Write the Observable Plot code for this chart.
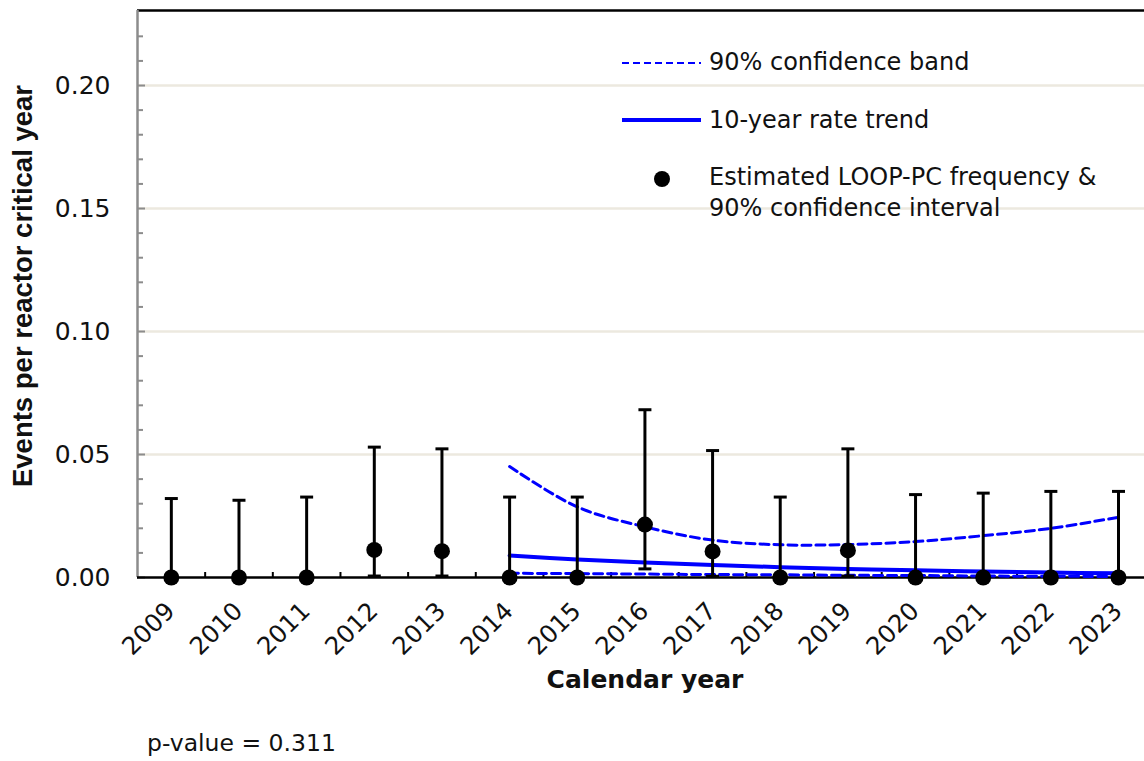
<!DOCTYPE html>
<html>
<head>
<meta charset="utf-8">
<script src="https://cdn.jsdelivr.net/npm/d3@7"></script>
<script src="https://cdn.jsdelivr.net/npm/@observablehq/plot@0.6"></script>
<style>
  html, body { margin: 0; padding: 0; background: #fff; overflow: hidden; }
  #wrap { position: relative; width: 1144px; height: 761px; }
  #legend { position: absolute; left: 0; top: 0; font-family: "DejaVu Sans", sans-serif; font-size: 24px; color: #111; }
  .item { position: absolute; white-space: nowrap; }
  #caption { font-family: "DejaVu Sans", sans-serif; font-size: 23.5px; line-height: 28px; margin-top: 14px; padding-left: 147px; color: #111; }
</style>
</head>
<body>
<div id="wrap">
  <div id="chart"></div>
  <div id="caption"></div>
  <div id="legend"></div>
</div>
<script>
// ---- data ----
const years = [2009, 2010, 2011, 2012, 2013, 2014, 2015, 2016, 2017, 2018, 2019, 2020, 2021, 2022, 2023];
const rate  = [0, 0, 0, 0.0112, 0.0107, 0, 0, 0.0215, 0.0106, 0, 0.0110, 0, 0, 0, 0];
const upper = [0.0321, 0.0314, 0.0327, 0.0530, 0.0523, 0.0327, 0.0327, 0.0682, 0.0516, 0.0327, 0.0523, 0.0337, 0.0343, 0.0350, 0.0350];
const lower = [0, 0, 0, 0.0006, 0.0006, 0, 0, 0.0035, 0.0005, 0, 0.0006, 0, 0, 0, 0];

const trendYears = [2014, 2015, 2016, 2017, 2018, 2019, 2020, 2021, 2022, 2023];
const trend      = [0.0089, 0.0073, 0.0061, 0.0051, 0.0042, 0.0035, 0.0029, 0.0024, 0.0020, 0.0017];
const bandUpper  = [0.0451, 0.0287, 0.0206, 0.0152, 0.0133, 0.0134, 0.0146, 0.0170, 0.0200, 0.0245];
const bandLower  = [0.0017, 0.0016, 0.0014, 0.0012, 0.0011, 0.0009, 0.0008, 0.0006, 0.0005, 0.0004];

const yMajor = [0, 0.05, 0.10, 0.15, 0.20];
const yMinor = [0.01, 0.02, 0.03, 0.04, 0.06, 0.07, 0.08, 0.09, 0.11, 0.12, 0.13, 0.14, 0.16, 0.17, 0.18, 0.19, 0.21, 0.22];
const halfYears = [2009.5, 2010.5, 2011.5, 2012.5, 2013.5, 2014.5, 2015.5, 2016.5, 2017.5, 2018.5, 2019.5, 2020.5, 2021.5, 2022.5];
const xDomain = [2008.5, 2023.384];
const yDomain = [0, 0.2305];

const yTitle = "Events per reactor critical year";
const xTitle = "Calendar year";
const legendLabels = ["90% confidence band", "10-year rate trend", "Estimated LOOP-PC frequency &", "90% confidence interval"];
const captionText = "p-value = 0.311";

// ---- tables ----
const points = years.map((y, i) => ({year: y, rate: rate[i], lo: lower[i], hi: upper[i]}));
const lowCaps = points.filter(d => d.lo > 0);
const trendData = trendYears.map((y, i) => ({year: y, trend: trend[i], up: bandUpper[i], lo: bandLower[i]}));

const blue = "#0000FF";
const capHalf = 0.096;

const chart = Plot.plot({
  width: 1144,
  height: 715,
  marginLeft: 137,
  marginRight: 0,
  marginTop: 10,
  marginBottom: 138,
  style: {fontFamily: "DejaVu Sans, sans-serif", fontSize: "25px", background: "white", color: "#111"},
  x: {domain: xDomain},
  y: {domain: yDomain},
  marks: [
    Plot.gridY(yMajor.filter(d => d > 0), {stroke: "#ECE9DF", strokeOpacity: 1, strokeWidth: 2.5}),
    Plot.ruleY([yDomain[1]], {stroke: "#000", strokeWidth: 2.5}),
    Plot.axisY(yMinor, {tickSize: -6, stroke: "#8c8c8c", strokeWidth: 2, text: null, label: null}),
    Plot.axisY(yMajor, {tickSize: -8, stroke: "#8c8c8c", strokeWidth: 2, text: null, label: null}),
    Plot.axisY(yMajor, {tickSize: 0, tickPadding: 27, tickFormat: d3.format(".2f"), fontSize: 25, label: null}),
    Plot.ruleX([xDomain[0]], {stroke: "#8c8c8c", strokeWidth: 2.5}),
    Plot.axisX(halfYears, {tickSize: -5, stroke: "#000", strokeWidth: 2, text: null, label: null}),
    Plot.text(years, {x: d => d, frameAnchor: "bottom", rotate: -45, textAnchor: "end", dx: 5, dy: 35, text: d => String(d), fontSize: 24.5}),
    Plot.text([yTitle], {frameAnchor: "left", textAnchor: "middle", lineAnchor: "middle", rotate: -90, dx: -114, dy: -8, fontWeight: "bold", fontSize: 27.5, fontFamily: "Liberation Sans, Arial, sans-serif"}),
    Plot.text([xTitle], {frameAnchor: "bottom", dx: 4, dy: 110, fontWeight: "bold", fontSize: 25}),
    Plot.ruleY([0], {stroke: "#000", strokeWidth: 2.5}),
    Plot.line(trendData, {x: "year", y: "up", stroke: blue, strokeWidth: 3, strokeDasharray: "9,5", curve: "catmull-rom"}),
    Plot.line(trendData, {x: "year", y: "lo", stroke: blue, strokeWidth: 3, strokeDasharray: "9,5", curve: "catmull-rom"}),
    Plot.line(trendData, {x: "year", y: "trend", stroke: blue, strokeWidth: 4, curve: "catmull-rom"}),
    Plot.ruleX(points, {x: "year", y1: "lo", y2: "hi", stroke: "#000", strokeWidth: 3}),
    Plot.link(points, {x1: d => d.year - capHalf, x2: d => d.year + capHalf, y1: "hi", y2: "hi", stroke: "#000", strokeWidth: 3}),
    Plot.link(lowCaps, {x1: d => d.year - capHalf, x2: d => d.year + capHalf, y1: "lo", y2: "lo", stroke: "#000", strokeWidth: 3}),
    Plot.dot(points, {x: "year", y: "rate", r: 8, fill: "#000", stroke: "none"})
  ]
});
document.getElementById("chart").appendChild(chart);
document.getElementById("caption").textContent = captionText;

// ---- legend (HTML overlay) ----
const legend = document.getElementById("legend");
legend.innerHTML = `
  <svg class="item" style="left:622px; top:58px;" width="80" height="10"><line x1="0" y1="5" x2="79" y2="5" stroke="${blue}" stroke-width="2" stroke-dasharray="7,4"/></svg>
  <div class="item" style="left:709px; top:47px; line-height:30px;">${legendLabels[0]}</div>
  <svg class="item" style="left:622px; top:115px;" width="80" height="10"><line x1="0" y1="5" x2="79" y2="5" stroke="${blue}" stroke-width="4"/></svg>
  <div class="item" style="left:709px; top:105px; line-height:30px;">${legendLabels[1]}</div>
  <svg class="item" style="left:652px; top:169px;" width="20" height="20"><circle cx="10" cy="10" r="8" fill="#000"/></svg>
  <div class="item" style="left:709px; top:162px; line-height:31px;">${legendLabels[2]}<br>${legendLabels[3]}</div>
`;
</script>
</body>
</html>
